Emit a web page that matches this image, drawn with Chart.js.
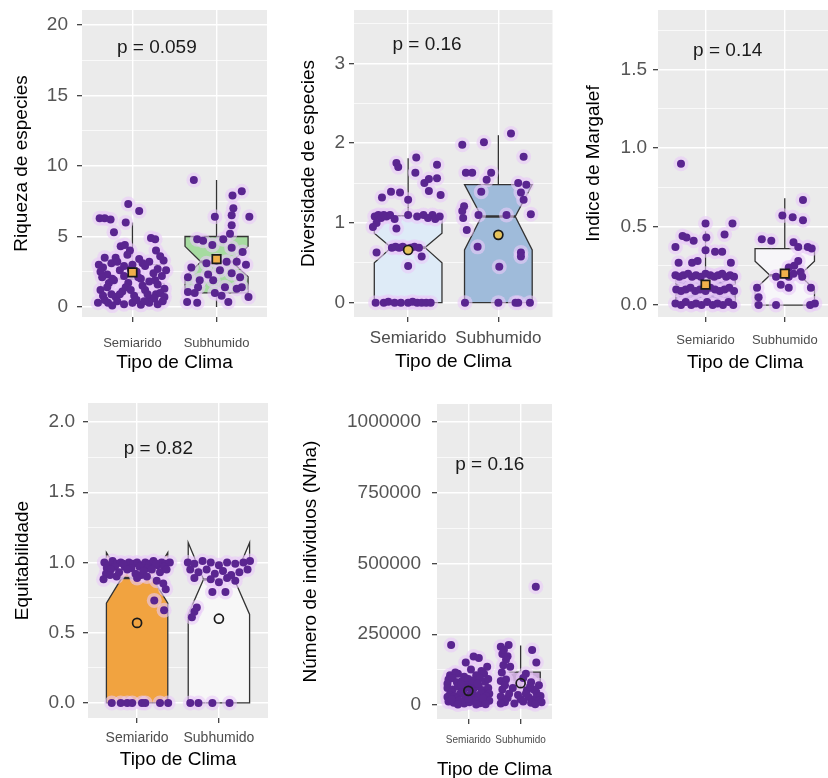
<!DOCTYPE html>
<html>
<head>
<meta charset="utf-8">
<script src="https://cdn.jsdelivr.net/npm/chart.js@4.4.1/dist/chart.umd.min.js"></script>
<style>
  html, body { margin: 0; padding: 0; background: #fff; overflow: hidden; width: 828px; height: 778px; position: relative; }
  canvas { position: absolute; }
</style>
</head>
<body>
<canvas id="riqueza"></canvas>
<canvas id="diversidad"></canvas>
<canvas id="margalef"></canvas>
<canvas id="equitabilidad"></canvas>
<canvas id="individuos"></canvas>
<script>
const categories = ['Semiarido', 'Subhumido'];
const pLabels = ['p = 0.059', 'p = 0.16', 'p = 0.14', 'p = 0.82', 'p = 0.16'];

// box stats per group: [lower whisker, Q1, notch low, median, notch high, Q3, upper whisker]
const riquezaBox = [[0, 1, 1.65, 2, 2.35, 3, 6], [0, 1, 2.15, 3.2, 4.3, 5, 9]];
const riquezaMean = [2.45, 3.4];
const riquezaTicks = [0, 5, 10, 15, 20];
// jittered observations: [x offset from group centre, value]
const riquezaSemi = [
  [-0.05, 7.3], [0.08, 6.8], [-0.39, 6.3], [-0.33, 6.3], [-0.26, 6.2], [-0.08, 6.0], [-0.22, 5.3],
  [0.22, 4.9], [0.27, 4.8], [-0.14, 4.3], [-0.09, 4.4], [0.28, 4.0], [-0.03, 4.0],
  [-0.33, 3.5], [-0.2, 3.5], [-0.06, 3.7], [0.08, 3.4], [0.2, 3.2], [0.37, 3.3], [-0.4, 3.0],
  [-0.35, 2.8], [-0.25, 3.1], [0.0, 3.0], [0.15, 2.9], [0.3, 2.7], [-0.15, 2.6], [0.05, 2.5],
  [0.25, 2.4], [-0.3, 2.3], [0.12, 3.1], [-0.1, 2.9], [-0.38, 2.5], [-0.18, 3.2], [0.33, 3.6],
  [-0.02, 2.7], [0.4, 2.6],
  [-0.36, 2.1], [-0.22, 1.9], [-0.1, 2.2], [0.1, 2.0], [0.2, 1.8], [0.35, 2.2], [-0.05, 1.7],
  [0.3, 1.6], [-0.28, 1.7], [-0.24, 2.0], [0.07, 2.1], [0.27, 1.9],
  [-0.38, 1.2], [-0.25, 0.9], [-0.12, 1.1], [0.02, 0.8], [0.15, 1.2], [0.28, 0.9], [0.38, 1.3],
  [-0.3, 1.4], [-0.08, 1.4], [0.12, 1.5], [0.33, 1.0], [-0.2, 0.7], [0.22, 0.6], [-0.02, 1.2],
  [-0.35, 0.8], [-0.15, 0.9], [0.18, 0.9], [0.38, 0.7], [0.26, 0.6],
  [-0.41, 0.3], [-0.29, 0.3], [-0.1, 0.2], [0.0, 0.3], [0.1, 0.15], [0.2, 0.3], [0.3, 0.2],
  [-0.18, 0.4], [0.05, 0.5], [-0.33, 0.5], [0.36, 0.4], [-0.24, 0.1], [0.14, 0.4]
];
const riquezaSub = [
  [-0.27, 9.0], [0.30, 8.2], [0.19, 7.9], [0.2, 7.0], [0.18, 6.5], [0.39, 6.4], [-0.02, 6.4],
  [0.18, 5.8], [0.16, 5.2], [-0.23, 4.8], [-0.16, 4.7], [-0.05, 4.4], [0.18, 4.2], [0.31, 3.9],
  [0.0, 3.3], [0.12, 3.2], [0.24, 3.2], [-0.12, 3.1], [-0.34, 2.1], [-0.2, 1.9], [0.04, 2.6],
  [0.18, 2.4], [0.28, 2.1], [0.3, 1.4], [-0.22, 1.4], [-0.02, 1.0], [0.1, 1.4], [0.24, 1.3],
  [-0.34, 1.06], [-0.26, 1.0], [0.38, 0.7], [-0.35, 0.35], [-0.23, 0.3], [0.14, 0.35],
  [-0.04, 1.9], [0.06, 0.8], [-0.1, 2.3], [0.35, 3.0], [-0.3, 2.8], [0.08, 4.8]
];

const diversidadBox = [[0, 0, 0.5, 0.69, 0.87, 1.09, 1.81], [0, 0, 0.66, 1.08, 1.48, 1.48, 2.1]];
const diversidadMean = [0.66, 0.85];
const diversidadTicks = [0, 1, 2, 3];
const diversidadSemi = [
  [-0.13, 1.75], [-0.11, 1.70], [0.09, 1.82], [0.32, 1.73], [0.08, 1.63], [0.18, 1.50], [0.23, 1.55],
  [0.32, 1.56], [-0.19, 1.39], [-0.09, 1.38], [-0.29, 1.32], [0.0, 1.29], [0.23, 1.40], [0.36, 1.35],
  [-0.37, 1.08], [-0.33, 1.1], [-0.3, 1.06], [-0.27, 1.1], [-0.24, 1.08], [-0.2, 1.1], [-0.15, 1.05],
  [0.0, 1.1], [0.1, 1.08], [0.17, 1.1], [0.22, 1.06], [0.27, 1.1], [0.3, 1.05], [0.35, 1.08],
  [-0.35, 1.0], [-0.39, 0.95], [-0.13, 0.93],
  [-0.18, 0.69], [-0.14, 0.7], [-0.1, 0.69], [-0.06, 0.7], [-0.02, 0.68], [0.03, 0.69], [0.07, 0.7],
  [0.12, 0.69], [-0.35, 0.63], [0.15, 0.58], [0.0, 0.46],
  [-0.36, 0.0], [-0.27, 0.0], [-0.22, 0.01], [-0.15, 0.0], [-0.08, 0.0], [0.0, 0.0], [0.05, 0.01],
  [0.1, 0.0], [0.15, 0.0], [0.2, 0.0], [0.25, 0.0]
];
const diversidadSub = [
  [0.14, 2.12], [-0.16, 2.01], [-0.4, 1.98], [0.28, 1.83], [-0.36, 1.63], [-0.29, 1.63], [-0.08, 1.63],
  [-0.13, 1.54], [-0.19, 1.39], [0.22, 1.5], [0.31, 1.48], [0.25, 1.38], [0.28, 1.29], [0.36, 1.11],
  [0.09, 1.1], [-0.22, 1.1], [-0.38, 1.21], [-0.4, 1.15], [-0.39, 1.06], [-0.35, 0.91], [-0.23, 0.70],
  [0.25, 0.63], [0.25, 0.58], [0.01, 0.45], [-0.37, 0.0], [0.0, 0.0], [0.19, 0.0], [0.22, 0.0], [0.35, 0.0]
];

const margalefBox = [[0, 0, 0.066, 0.1, 0.134, 0.19, 0.47], [0, 0, 0.1, 0.19, 0.28, 0.36, 0.68]];
const margalefMean = [0.13, 0.2];
const margalefTicks = [0, 0.5, 1, 1.5];
const margalefSemi = [
  [-0.31, 0.90], [0.0, 0.52], [0.34, 0.52], [-0.29, 0.44], [-0.24, 0.43], [-0.15, 0.41], [0.24, 0.45],
  [0.01, 0.43], [-0.38, 0.37], [0.0, 0.35], [0.12, 0.34], [0.21, 0.34], [-0.34, 0.27], [-0.17, 0.27],
  [-0.1, 0.28], [0.32, 0.27],
  [-0.38, 0.19], [-0.33, 0.18], [-0.28, 0.19], [-0.22, 0.2], [-0.17, 0.18], [-0.12, 0.19], [-0.06, 0.18],
  [0.0, 0.2], [0.06, 0.19], [0.11, 0.18], [0.16, 0.19], [0.21, 0.2], [0.26, 0.18], [0.31, 0.19], [0.36, 0.18],
  [-0.37, 0.1], [-0.31, 0.09], [-0.25, 0.1], [-0.19, 0.11], [-0.13, 0.09], [-0.07, 0.1], [0.0, 0.09],
  [0.06, 0.11], [0.12, 0.1], [0.18, 0.09], [0.24, 0.1], [0.3, 0.11], [0.36, 0.09],
  [-0.38, 0.01], [-0.31, 0.0], [-0.25, 0.02], [-0.18, 0.0], [-0.12, 0.01], [-0.05, 0.0], [0.02, 0.02],
  [0.09, 0.0], [0.15, 0.01], [0.22, 0.0], [0.29, 0.02], [0.35, 0.0]
];
const margalefSub = [
  [0.23, 0.67], [-0.03, 0.57], [0.1, 0.56], [0.23, 0.54], [-0.29, 0.42], [-0.17, 0.41], [0.11, 0.40],
  [0.17, 0.37], [0.29, 0.37], [0.34, 0.36], [0.17, 0.28], [0.12, 0.25], [0.05, 0.24], [-0.11, 0.18],
  [0.05, 0.18], [0.11, 0.2], [0.22, 0.18], [-0.35, 0.11], [0.05, 0.11], [0.33, 0.11], [-0.33, 0.0],
  [-0.11, 0.0], [0.32, 0.0], [0.38, 0.01], [-0.33, 0.05], [-0.05, 0.13], [0.2, 0.21]
];

const equitBox = [[0, 0, 0.71, 0.89, 1.07, 1.0, 1.0], [0, 0, 0.63, 0.88, 1.14, 1.0, 1.0]];
const equitMean = [0.57, 0.6];
const equitTicks = [0, 0.5, 1, 1.5, 2];
const equitSemi = [
  [-0.4, 1.0], [-0.35, 0.98], [-0.3, 1.01], [-0.25, 0.99], [-0.2, 1.0], [-0.15, 0.97], [-0.1, 1.0],
  [-0.05, 0.99], [0.0, 1.0], [0.05, 0.98], [0.1, 1.0], [0.15, 0.99], [0.2, 1.01], [0.25, 0.98],
  [0.3, 1.0], [0.35, 0.99], [0.4, 1.0],
  [-0.37, 0.96], [-0.27, 0.97], [-0.17, 0.99], [-0.07, 0.96], [0.03, 0.97], [0.13, 0.96], [0.23, 0.99],
  [0.33, 0.97], [-0.25, 0.9], [0.05, 0.91],
  [-0.38, 0.92], [-0.32, 0.95], [-0.22, 0.93], [-0.12, 0.95], [-0.02, 0.92], [0.08, 0.94], [0.18, 0.95],
  [0.28, 0.93], [0.36, 0.95], [-0.41, 0.88], [-0.33, 0.91], [0.0, 0.89], [0.12, 0.9], [0.24, 0.87],
  [0.32, 0.85], [0.35, 0.81], [0.21, 0.73], [0.33, 0.66],
  [-0.31, 0.0], [-0.12, 0.0], [-0.06, 0.0], [0.06, 0.0], [0.1, 0.0], [0.28, 0.0], [0.38, 0.0], [-0.2, 0.0]
];
const equitSub = [
  [-0.38, 1.0], [-0.3, 0.99], [-0.2, 1.01], [-0.1, 1.0], [0.0, 0.98], [0.1, 1.0], [0.2, 0.99],
  [0.3, 1.0], [0.38, 1.01],
  [-0.35, 0.95], [-0.25, 0.93], [-0.15, 0.95], [-0.05, 0.92], [0.05, 0.94], [0.15, 0.91], [0.25, 0.93],
  [0.35, 0.95], [-0.3, 0.89], [-0.1, 0.88], [0.0, 0.86], [0.1, 0.89], [0.2, 0.87], [-0.08, 0.79],
  [0.08, 0.79], [-0.3, 0.65], [-0.33, 0.61], [-0.27, 0.68],
  [-0.35, 0.0], [-0.25, 0.0], [-0.08, 0.0], [0.13, 0.0]
];

const individuosBox = [[0, 15000, 28000, 40000, 52000, 75000, 150000], [0, 25000, 25000, 45000, 67000, 116000, 210000]];
const individuosMean = [50000, 77000];
const individuosTicks = [0, 250000, 500000, 750000, 1000000];
const individuosSemi = [
  [-0.33, 212000], [0.1, 171000], [0.2, 166000], [0.36, 135000], [-0.05, 150000], [0.25, 120000],
  [0.05, 125000], [-0.2, 110000], [-0.35, 105000], [-0.25, 115000], [0.15, 105000], [0.3, 110000],
  [-0.08, 100000],
  [-0.38, 90000], [-0.3, 95000], [-0.22, 80000], [-0.12, 85000], [0.0, 92000], [0.12, 88000],
  [0.22, 95000], [0.32, 82000], [-0.4, 75000], [-0.05, 70000], [0.08, 78000], [0.38, 92000],
  [-0.4, 60000], [-0.3, 55000], [-0.2, 65000], [-0.1, 50000], [0.0, 62000], [0.1, 58000], [0.2, 66000],
  [0.3, 52000], [0.38, 60000], [-0.32, 45000], [-0.12, 45000], [0.08, 48000], [0.3, 40000], [0.4, 40000],
  [-0.36, 35000], [-0.26, 30000], [-0.16, 40000], [-0.06, 28000], [0.04, 38000], [0.14, 32000],
  [0.24, 42000], [0.34, 30000], [-0.4, 28000], [-0.22, 22000], [0.18, 25000],
  [-0.38, 12000], [-0.28, 8000], [-0.18, 15000], [-0.08, 5000], [0.02, 10000], [0.12, 18000],
  [0.22, 6000], [0.32, 12000], [0.4, 15000], [-0.32, 20000], [0.0, 22000], [0.28, 24000],
  [-0.14, 72000], [0.18, 75000], [0.15, 2000], [-0.2, 2000], [0.33, 3000]
];
const individuosSub = [
  [0.29, 418000], [-0.38, 206000], [-0.23, 212000], [0.22, 194000], [-0.35, 180000], [-0.25, 172000],
  [-0.33, 140000], [-0.2, 135000], [0.3, 150000], [0.1, 110000], [-0.32, 195000], [-0.28, 160000],
  [-0.36, 115000],
  [-0.38, 85000], [-0.28, 90000], [0.05, 95000], [0.2, 80000], [0.35, 70000], [-0.35, 55000],
  [-0.15, 60000], [0.12, 52000], [0.3, 45000], [-0.3, 70000], [0.25, 55000], [0.18, 65000],
  [-0.38, 30000], [-0.25, 25000], [-0.05, 35000], [0.15, 28000], [0.28, 22000], [0.38, 32000],
  [-0.22, 40000], [0.0, 20000], [0.1, 40000],
  [-0.3, 10000], [-0.12, 5000], [0.05, 12000], [0.2, 8000], [0.35, 15000], [0.4, 10000],
  [-0.38, 5000], [0.28, 3000]
];

const FONT = "'Liberation Sans', Arial, sans-serif";
Chart.defaults.font.family = FONT;

const panels = [
  { id: 'riqueza', left: 0, top: 0, width: 280, height: 390,
    area: { left: 82, top: 10, right: 267, bottom: 317 },
    yTitle: 'Riqueza de especies', yTitleX: 22, yMin: -0.71, yMax: 21.06, yPad: 9,
    ticks: riquezaTicks, decimals: 0, boxes: riquezaBox, means: riquezaMean,
    groups: [riquezaSemi, riquezaSub], fills: ['#f4f1f6', '#a6dba0'],
    meanStyle: 'rect', meanRadius: 6, meanFill: '#f0b04a',
    label: pLabels[0], labelAt: [1.29, 18.4], xFont: 13, xLabelY: 343, xTitleY: 363 },
  { id: 'diversidad', left: 285, top: 0, width: 275, height: 390,
    area: { left: 354, top: 10, right: 554, bottom: 317 },
    yTitle: 'Diversidade de especies', yTitleX: 309, yMin: -0.18, yMax: 3.67, yPad: 4,
    ticks: diversidadTicks, decimals: 0, boxes: diversidadBox, means: diversidadMean,
    groups: [diversidadSemi, diversidadSub], fills: ['#deebf7', '#9fbbda'],
    meanStyle: 'circle', meanRadius: 4.5, meanFill: '#e6c35c',
    label: pLabels[1], labelAt: [1.21, 3.23], xFont: 17, xLabelY: 338, xTitleY: 362 },
  { id: 'margalef', left: 570, top: 0, width: 270, height: 390,
    area: { left: 658, top: 10, right: 838, bottom: 317 },
    yTitle: 'Indice de Margalef', yTitleX: 594, yMin: -0.076, yMax: 1.88, yPad: 6,
    ticks: margalefTicks, decimals: 1, boxes: margalefBox, means: margalefMean,
    groups: [margalefSemi, margalefSub], fills: ['#a08bcb', '#f7f6f9'],
    meanStyle: 'rect', meanRadius: 6, meanFill: '#f0b04a',
    label: pLabels[2], labelAt: [1.28, 1.62], xFont: 13, xLabelY: 340, xTitleY: 363 },
  { id: 'equitabilidad', left: 0, top: 390, width: 280, height: 388,
    area: { left: 88, top: 403, right: 268, bottom: 718 },
    yTitle: 'Equitabilidade', yTitleX: 23, yMin: -0.107, yMax: 2.135, yPad: 8,
    ticks: equitTicks, decimals: 1, boxes: equitBox, means: equitMean,
    groups: [equitSemi, equitSub], fills: ['#f1a340', '#f7f7f7'],
    meanStyle: 'circle', meanRadius: 4.5, meanFill: 'rgba(0,0,0,0)',
    label: pLabels[3], labelAt: [1.26, 1.81], xFont: 14, xLabelY: 738, xTitleY: 760 },
  { id: 'individuos', left: 285, top: 390, width: 275, height: 400,
    area: { left: 437, top: 404, right: 552, bottom: 719 },
    yTitle: 'Número de individuos (N/ha)', yTitleX: 311, yMin: -49500, yMax: 1063600, yPad: 11,
    ticks: individuosTicks, decimals: 0, boxes: individuosBox, means: individuosMean,
    groups: [individuosSemi, individuosSub], fills: ['#f7f7f7', '#c9a9d8'],
    meanStyle: 'circle', meanRadius: 4.5, meanFill: 'rgba(0,0,0,0)',
    label: pLabels[4], labelAt: [1.41, 848000], xFont: 10, xLabelY: 740, xTitleY: 770 }
];

const TICK_LEN = 5;
const TITLE_SIZE = 19;
const Y_TICK_SIZE = 19;

const panelBackground = {
  id: 'panelBackground',
  beforeDraw(chart) {
    const { ctx, chartArea: a } = chart;
    ctx.save();
    ctx.fillStyle = '#ebebeb';
    ctx.fillRect(a.left, a.top, a.right - a.left, a.bottom - a.top);
    ctx.restore();
  }
};

// ggplot-style notched box: hinges, notches, median and whiskers
function notchedBoxes(p) {
  return {
    id: 'notchedBoxes',
    beforeDatasetsDraw(chart) {
      const { ctx, scales: { x, y } } = chart;
      const py = v => y.getPixelForValue(v);
      p.boxes.forEach((s, i) => {
        const [lo, q1, nlo, med, nhi, q3, hi] = s;
        const c = i + 1;
        const xmin = x.getPixelForValue(c - 0.375);
        const xmax = x.getPixelForValue(c + 0.375);
        const xc = x.getPixelForValue(c);
        const indent = (xmax - xmin) * 0.25;
        ctx.save();
        ctx.strokeStyle = '#333';
        ctx.lineWidth = 1.3;
        ctx.beginPath();
        ctx.moveTo(xc, py(q3)); ctx.lineTo(xc, py(hi));
        ctx.moveTo(xc, py(q1)); ctx.lineTo(xc, py(lo));
        ctx.stroke();
        ctx.beginPath();
        ctx.moveTo(xmin, py(q3));
        ctx.lineTo(xmin, py(nhi));
        ctx.lineTo(xmin + indent, py(med));
        ctx.lineTo(xmin, py(nlo));
        ctx.lineTo(xmin, py(q1));
        ctx.lineTo(xmax, py(q1));
        ctx.lineTo(xmax, py(nlo));
        ctx.lineTo(xmax - indent, py(med));
        ctx.lineTo(xmax, py(nhi));
        ctx.lineTo(xmax, py(q3));
        ctx.closePath();
        ctx.fillStyle = p.fills[i];
        ctx.fill();
        ctx.stroke();
        ctx.lineWidth = 2.6;
        ctx.beginPath();
        ctx.moveTo(xmin + indent, py(med));
        ctx.lineTo(xmax - indent, py(med));
        ctx.stroke();
        ctx.restore();
      });
    }
  };
}

function pValueLabel(p) {
  return {
    id: 'pValueLabel',
    afterDatasetsDraw(chart) {
      const { ctx, scales: { x, y } } = chart;
      ctx.save();
      ctx.font = '19px ' + FONT;
      ctx.fillStyle = '#1a1a1a';
      ctx.textAlign = 'center';
      ctx.textBaseline = 'middle';
      ctx.fillText(p.label, x.getPixelForValue(p.labelAt[0]), y.getPixelForValue(p.labelAt[1]));
      ctx.restore();
    }
  };
}

function minorTicks(major, min, max) {
  const step = major[1] - major[0];
  const out = [];
  for (let v = major[0] - step / 2; v <= max; v += step) if (v >= min) out.push(v);
  return out;
}

function drawPanel(p) {
  const canvas = document.getElementById(p.id);
  canvas.width = p.width;
  canvas.height = p.height;
  canvas.style.left = p.left + 'px';
  canvas.style.top = p.top + 'px';

  const isMajor = v => p.ticks.some(t => Math.abs(t - v) < 1e-9);
  const yTicks = p.ticks.concat(minorTicks(p.ticks, p.yMin, p.yMax)).sort((a, b) => a - b);
  const yWidth = p.area.left - p.left;
  const xHeight = p.top + p.height - p.area.bottom;
  const xLineH = p.xFont * 1.2;
  const titleLineH = TITLE_SIZE * 1.2;

  const dots = [];
  p.groups.forEach((g, i) => g.forEach(([dx, v]) => dots.push({ x: i + 1 + dx, y: v })));

  new Chart(canvas, {
    type: 'scatter',
    data: {
      datasets: [
        { data: p.means.map((m, i) => ({ x: i + 1, y: m })), pointStyle: p.meanStyle,
          pointRadius: p.meanRadius, backgroundColor: p.meanFill, borderColor: '#1a1a1a', borderWidth: 1.7 },
        { data: dots, pointRadius: 4, backgroundColor: '#5a2590', borderWidth: 0 },
        { data: dots, pointRadius: 7.5, backgroundColor: 'rgba(233,202,248,0.6)', borderWidth: 0 }
      ]
    },
    options: {
      responsive: false,
      animation: false,
      events: [],
      layout: { padding: { left: 0, top: p.area.top - p.top, right: p.left + p.width - p.area.right, bottom: 0 } },
      plugins: { legend: { display: false }, tooltip: { enabled: false } },
      scales: {
        x: {
          type: 'linear', min: 0.4, max: 2.6,
          border: { display: false },
          afterBuildTicks: s => { s.ticks = [{ value: 1 }, { value: 2 }]; },
          afterFit: s => { s.height = xHeight; s.paddingLeft = 0; s.paddingRight = 0; },
          grid: { color: '#ffffff', lineWidth: 1.4, tickColor: '#333', tickLength: TICK_LEN, tickWidth: 1.2 },
          ticks: {
            callback: v => categories[v - 1], color: '#4d4d4d', font: { size: p.xFont },
            padding: p.xLabelY - p.area.bottom - TICK_LEN - xLineH / 2, maxRotation: 0, autoSkip: false
          },
          title: {
            display: true, text: 'Tipo de Clima', color: '#000', font: { size: TITLE_SIZE },
            padding: { top: 0, bottom: p.top + p.height - p.xTitleY - titleLineH / 2 }
          }
        },
        y: {
          type: 'linear', min: p.yMin, max: p.yMax,
          border: { display: false },
          afterBuildTicks: s => { s.ticks = yTicks.map(v => ({ value: v })); },
          afterFit: s => { s.width = yWidth; s.paddingTop = 0; s.paddingBottom = 0; },
          grid: {
            color: '#ffffff',
            lineWidth: c => isMajor(c.tick.value) ? 1.4 : 0.7,
            tickColor: c => isMajor(c.tick.value) ? '#333' : 'rgba(0,0,0,0)',
            tickLength: TICK_LEN, tickWidth: 1.2
          },
          ticks: {
            callback: v => isMajor(v) ? v.toFixed(p.decimals) : '',
            color: '#555', font: { size: Y_TICK_SIZE }, padding: p.yPad, autoSkip: false
          },
          title: {
            display: true, text: p.yTitle, color: '#000', font: { size: TITLE_SIZE },
            padding: { top: p.yTitleX - p.left - titleLineH / 2, bottom: 0 }
          }
        }
      }
    },
    plugins: [panelBackground, notchedBoxes(p), pValueLabel(p)]
  });
}

panels.forEach(drawPanel);
</script>
</body>
</html>
